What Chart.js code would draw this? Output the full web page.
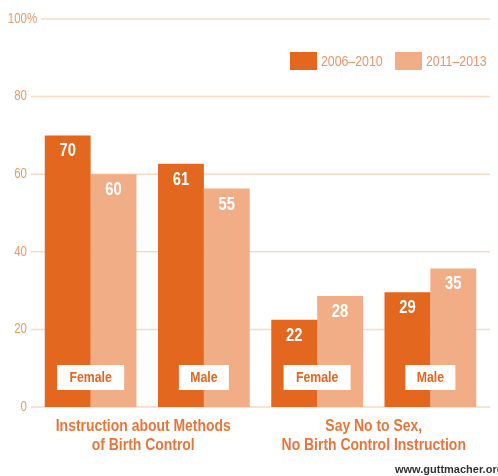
<!DOCTYPE html>
<html>
<head>
<meta charset="utf-8">
<script src="https://cdn.jsdelivr.net/npm/chart.js@4.4.1/dist/chart.umd.min.js"></script>
<style>
  html, body { margin: 0; padding: 0; background: #fff; }
  #wrap { position: relative; width: 498px; height: 476px; }
</style>
</head>
<body>
<div id="wrap"><canvas id="chartCanvas"></canvas></div>
<script>
const categories = ['Female', 'Male', 'Female', 'Male'];
const groupTitles = [
  ['Instruction about Methods', 'of Birth Control'],
  ['Say No to Sex,', 'No Birth Control Instruction']
];
const seriesNames = ['2006–2010', '2011–2013'];
// bar heights as measured, and the printed numbers
const values0610 = [70, 62.7, 22.5, 29.6];
const values1113 = [60, 56.3, 28.6, 35.7];
const labels0610 = ['70', '61', '22', '29'];
const labels1113 = ['60', '55', '28', '35'];
const yTicks = [0, 20, 40, 60, 80, 100];

const DARK = '#e4671f';
const LIGHT = '#f1ae86';
const FONT = "'Liberation Sans', Arial, sans-serif";
const SQUEEZE = 0.82; // arial narrow look

// draw text squeezed horizontally, returns drawn width
function narrowText(ctx, text, x, y, align) {
  ctx.save();
  ctx.translate(x, y);
  ctx.scale(SQUEEZE, 1);
  ctx.textAlign = align;
  ctx.fillText(text, 0, 0);
  const w = ctx.measureText(text).width * SQUEEZE;
  ctx.restore();
  return w;
}

const decorPlugin = {
  id: 'decor',
  beforeDatasetsDraw(chart) {
    const ctx = chart.ctx;
    const y = chart.scales.y;
    ctx.save();
    ctx.font = '14px ' + FONT;
    ctx.fillStyle = '#ee9a66';
    ctx.textBaseline = 'middle';
    yTicks.forEach(t => {
      const py = y.getPixelForValue(t);
      narrowText(ctx, String(t), 27, py, 'right');
      let end = 27;
      if (t === 100) end += narrowText(ctx, '%', 27, py, 'left');
      ctx.strokeStyle = '#fbd9c4';
      ctx.lineWidth = 1.5;
      ctx.beginPath();
      ctx.moveTo(end + 4, py);
      ctx.lineTo(490, py);
      ctx.stroke();
    });
    ctx.restore();
  },
  afterDatasetsDraw(chart) {
    const ctx = chart.ctx;
    const y = chart.scales.y;
    const x = chart.scales.x;
    const base = y.getPixelForValue(0);
    ctx.save();
    ctx.textBaseline = 'middle';

    // value labels
    ctx.font = 'bold 18px ' + FONT;
    ctx.fillStyle = '#fff';
    [labels0610, labels1113].forEach((labs, di) => {
      chart.getDatasetMeta(di).data.forEach((bar, i) => {
        narrowText(ctx, labs[i], bar.x, bar.y + 16, 'center');
      });
    });

    // category boxes
    ctx.font = 'bold 15px ' + FONT;
    categories.forEach((c, i) => {
      const cx = x.getPixelForValue(i);
      const w = c === 'Female' ? 67 : 50;
      ctx.fillStyle = '#fff';
      ctx.fillRect(cx - w / 2, base - 42, w, 25);
      ctx.fillStyle = DARK;
      narrowText(ctx, c, cx, base - 29, 'center');
    });

    // group titles
    ctx.font = 'bold 17px ' + FONT;
    ctx.fillStyle = '#e8763a';
    groupTitles.forEach((lines, g) => {
      const cx = (x.getPixelForValue(g * 2) + x.getPixelForValue(g * 2 + 1)) / 2 - (g === 0 ? 4 : 0);
      lines.forEach((ln, k) => narrowText(ctx, ln, cx, 426 + k * 19, 'center'));
    });

    // legend
    ctx.font = '15px ' + FONT;
    const legX = [290, 395];
    [DARK, LIGHT].forEach((col, i) => {
      ctx.fillStyle = col;
      ctx.fillRect(legX[i], 52, 27, 18);
      ctx.fillStyle = '#e9956a';
      narrowText(ctx, seriesNames[i], legX[i] + 31, 62, 'left');
    });

    // source
    ctx.font = 'bold 11px ' + FONT;
    ctx.fillStyle = '#333';
    ctx.textAlign = 'left';
    ctx.fillText('www.guttmacher.org', 395, 470);
    ctx.restore();
  }
};

const ctx = document.getElementById('chartCanvas').getContext('2d');
window.chart = new Chart(ctx, {
  type: 'bar',
  data: {
    labels: categories,
    datasets: [
      {
        label: seriesNames[0],
        data: values0610,
        backgroundColor: DARK,
        borderWidth: 0
      },
      {
        label: seriesNames[1],
        data: values1113,
        backgroundColor: LIGHT,
        borderWidth: 0
      }
    ]
  },
  options: {
    responsive: true,
    maintainAspectRatio: false,
    animation: false,
    layout: {
      padding: { left: 34, right: 11, top: 19, bottom: 69 }
    },
    datasets: {
      bar: { categoryPercentage: 0.81, barPercentage: 1 }
    },
    plugins: {
      legend: { display: false },
      tooltip: { enabled: false }
    },
    scales: {
      x: { display: false },
      y: { display: false, min: 0, max: 100 }
    }
  },
  plugins: [decorPlugin]
});
</script>
</body>
</html>
